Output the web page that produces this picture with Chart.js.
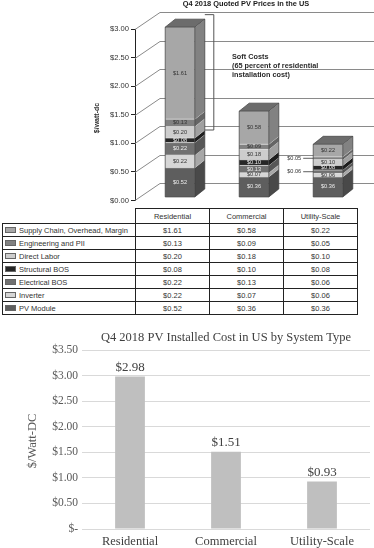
<!DOCTYPE html>
<html lang="en">
<head>
<meta charset="UTF-8">
<title>Q4 2018 PV Prices in the US</title>
<script src="https://cdn.jsdelivr.net/npm/chart.js"></script>
<style>
  body { margin: 0; background: #fff; }
  #page { position: relative; width: 374px; height: 548px; overflow: hidden; background: #fff; }
  canvas { position: absolute; left: 0; }
  #topChart { top: 0; }
  #bottomChart { top: 325px; }
  #costTable {
    position: absolute; left: 2px; top: 208px; width: 355px;
    border-collapse: collapse; table-layout: fixed;
    font: 7.5px "Liberation Sans", Arial, sans-serif; color: #333;
  }
  #costTable td, #costTable th {
    border: 1px solid #222; height: 12px; padding: 0;
    text-align: center; font-weight: normal; white-space: nowrap; overflow: hidden;
  }
  #costTable thead th { height: 14px; }
  #costTable th.blank { border-top: none; border-left: none; }
  #costTable td.name { text-align: left; }
  .sw {
    display: inline-block; width: 9px; height: 4px; border: 1px solid #666;
    margin: 0 3px 0 2px; vertical-align: 0;
  }
</style>
</head>
<body>
<div id="page">
  <canvas id="topChart" width="374" height="207"></canvas>
  <table id="costTable">
    <colgroup><col style="width:133px"><col style="width:74px"><col style="width:74px"><col style="width:74px"></colgroup>
    <thead id="tHead"></thead>
    <tbody id="tBody"></tbody>
  </table>
  <canvas id="bottomChart" width="374" height="223"></canvas>
</div>
<script>
// ---- data ----
const categories = ['Residential', 'Commercial', 'Utility-Scale'];
const seriesNames = ['PV Module', 'Inverter', 'Electrical BOS', 'Structural BOS',
  'Direct Labor', 'Engineering and PII', 'Supply Chain, Overhead, Margin'];
const pvModule = [0.52, 0.36, 0.36];
const inverter = [0.22, 0.07, 0.06];
const electricalBos = [0.22, 0.13, 0.06];
const structuralBos = [0.08, 0.10, 0.08];
const directLabor = [0.20, 0.18, 0.10];
const engineering = [0.13, 0.09, 0.05];
const supplyChain = [1.61, 0.58, 0.22];
const installedCost = [2.98, 1.51, 0.93];

const seriesValues = [pvModule, inverter, electricalBos, structuralBos, directLabor, engineering, supplyChain];
const seriesColors = ['#5e5e5e', '#d6d6d6', '#707070', '#262626', '#cdcdcd', '#818181', '#a7a7a7'];
const softCostSeries = ['Direct Labor', 'Engineering and PII', 'Supply Chain, Overhead, Margin'];
// labels too thin to sit inside their bar, shown to the left with a leader line
const outsideLabels = { 'Utility-Scale': ['Engineering and PII', 'Electrical BOS'] };

const money = v => '$' + v.toFixed(2);
const SANS = '"Liberation Sans", Arial, sans-serif';
const SERIF = '"Liberation Serif", "Times New Roman", serif';

// ---- table under the 3d chart ----
document.getElementById('tHead').innerHTML =
  '<tr><th class="blank"></th>' + categories.map(c => `<th>${c}</th>`).join('') + '</tr>';
const tBody = document.getElementById('tBody');
for (let s = seriesNames.length - 1; s >= 0; s--) {
  const tr = document.createElement('tr');
  tr.innerHTML = `<td class="name"><span class="sw" style="background:${seriesColors[s]}"></span>${seriesNames[s]}</td>` +
    seriesValues[s].map(v => `<td>${money(v)}</td>`).join('');
  tBody.appendChild(tr);
}

// ---- top chart: stacked bars with a drawn 3d look ----
const SHIFT_X = 8, SHIFT_Y = -3;     // bars sit a little back from the front plane
const DEPTH_X = 10, DEPTH_Y = -8;    // depth of each bar
const WALL_X = 25, WALL_Y = -17;     // depth of the back wall

function shade(hex, f) {
  const n = parseInt(hex.slice(1), 16);
  const r = Math.round(((n >> 16) & 255) * f), g = Math.round(((n >> 8) & 255) * f), b = Math.round((n & 255) * f);
  return `rgb(${r},${g},${b})`;
}
function isDark(hex) { return parseInt(hex.slice(1, 3), 16) < 0x80; }

const wallPlugin = {
  id: 'wall3d',
  beforeDatasetsDraw(chart) {
    const { ctx, chartArea, scales: { y } } = chart;
    ctx.save();
    ctx.strokeStyle = '#8a8a8a';
    ctx.lineWidth = 1;
    y.ticks.forEach(t => {
      const py = Math.round(y.getPixelForValue(t.value)) + 0.5;
      ctx.beginPath();
      ctx.moveTo(chartArea.left, py);
      ctx.lineTo(chartArea.left + WALL_X, py + WALL_Y);
      ctx.lineTo(chart.width, py + WALL_Y);
      ctx.stroke();
    });
    ctx.restore();
    ctx.save();
    ctx.translate(SHIFT_X, SHIFT_Y);
  },
  afterDatasetsDraw(chart) {
    const { ctx } = chart;
    ctx.restore();
    ctx.save();
    ctx.translate(SHIFT_X, SHIFT_Y);
    const n = chart.data.datasets.length;
    categories.forEach((cat, i) => {
      let barTop = 0, barBase = 0, barL = 0, barR = 0;
      for (let d = 0; d < n; d++) {
        const el = chart.getDatasetMeta(d).data[i];
        const { x, y, base, width } = el.getProps(['x', 'y', 'base', 'width'], true);
        const r = x + width / 2, l = x - width / 2;
        if (d === 0) { barBase = base; barL = l; barR = r; }
        barTop = y;
        ctx.fillStyle = shade(seriesColors[d], 0.78);
        ctx.beginPath();
        ctx.moveTo(r, y); ctx.lineTo(r + DEPTH_X, y + DEPTH_Y);
        ctx.lineTo(r + DEPTH_X, base + DEPTH_Y); ctx.lineTo(r, base);
        ctx.closePath(); ctx.fill();
        // light separators between segments
        ctx.strokeStyle = '#e4e4e4'; ctx.lineWidth = 0.7;
        ctx.beginPath();
        ctx.moveTo(l, y); ctx.lineTo(r, y); ctx.lineTo(r + DEPTH_X, y + DEPTH_Y);
        ctx.stroke();
        if (d === n - 1) {
          ctx.fillStyle = '#6c6c6c';
          ctx.beginPath();
          ctx.moveTo(l, y); ctx.lineTo(l + DEPTH_X, y + DEPTH_Y);
          ctx.lineTo(r + DEPTH_X, y + DEPTH_Y); ctx.lineTo(r, y);
          ctx.closePath(); ctx.fill();
        }
      }
      // outline of the whole bar
      ctx.strokeStyle = '#3c3c3c'; ctx.lineWidth = 0.7;
      ctx.beginPath();
      ctx.moveTo(barL, barBase); ctx.lineTo(barL, barTop);
      ctx.lineTo(barL + DEPTH_X, barTop + DEPTH_Y); ctx.lineTo(barR + DEPTH_X, barTop + DEPTH_Y);
      ctx.lineTo(barR + DEPTH_X, barBase + DEPTH_Y); ctx.lineTo(barR, barBase); ctx.closePath();
      ctx.moveTo(barR, barBase); ctx.lineTo(barR, barTop); ctx.lineTo(barR + DEPTH_X, barTop + DEPTH_Y);
      ctx.moveTo(barL, barTop); ctx.lineTo(barR, barTop);
      ctx.stroke();
      // value labels
      ctx.font = `5.6px ${SANS}`;
      ctx.textBaseline = 'middle';
      for (let d = 0; d < n; d++) {
        const el = chart.getDatasetMeta(d).data[i];
        const { x, y, base, width } = el.getProps(['x', 'y', 'base', 'width'], true);
        const txt = money(seriesValues[d][i]);
        const cy = (y + base) / 2;
        if ((outsideLabels[cat] || []).includes(seriesNames[d])) {
          const l = x - width / 2;
          ctx.textAlign = 'right';
          ctx.fillStyle = '#333';
          ctx.fillText(txt, l - 12, cy);
          ctx.strokeStyle = '#333'; ctx.lineWidth = 0.8;
          ctx.beginPath(); ctx.moveTo(l - 10, cy); ctx.lineTo(l, cy); ctx.stroke();
        } else {
          ctx.textAlign = 'center';
          ctx.fillStyle = isDark(seriesColors[d]) ? '#eeeeee' : '#333';
          ctx.fillText(txt, x, cy);
        }
      }
    });
    // soft cost bracket on the residential bar
    const softIdx = softCostSeries.map(s => seriesNames.indexOf(s));
    const topEl = chart.getDatasetMeta(Math.max(...softIdx)).data[0];
    const lowEl = chart.getDatasetMeta(Math.min(...softIdx)).data[0];
    const bx = topEl.x + topEl.width / 2 + DEPTH_X;
    ctx.strokeStyle = '#555'; ctx.lineWidth = 1;
    ctx.beginPath();
    ctx.moveTo(bx, topEl.y + DEPTH_Y - 4.5);
    ctx.lineTo(bx + 9, topEl.y + DEPTH_Y - 4.5);
    ctx.lineTo(bx + 9, lowEl.base + DEPTH_Y);
    ctx.lineTo(bx, lowEl.base + DEPTH_Y);
    ctx.stroke();
    ctx.restore();
  },
  afterDraw(chart) {
    const { ctx } = chart;
    ctx.save();
    ctx.fillStyle = '#1a1a1a';
    ctx.font = `bold 7.4px ${SANS}`;
    ctx.textAlign = 'center'; ctx.textBaseline = 'middle';
    ctx.fillText('Q4 2018 Quoted PV Prices in the US', 246, 3.5);
    ctx.textAlign = 'left';
    ctx.font = `bold 7.3px ${SANS}`;
    ctx.fillStyle = '#2a2a2a';
    ['Soft Costs', '(65 percent of residential', 'installation cost)'].forEach((t, k) => {
      ctx.fillText(t, 232, 56.5 + k * 9.4);
    });
    ctx.translate(97, 118);
    ctx.rotate(-Math.PI / 2);
    ctx.textAlign = 'center';
    ctx.font = `bold 7px ${SANS}`;
    ctx.fillStyle = '#333';
    ctx.fillText('$/watt-dc', 0, 0);
    ctx.restore();
  }
};

new Chart(document.getElementById('topChart'), {
  type: 'bar',
  data: {
    labels: categories,
    datasets: seriesNames.map((name, s) => ({
      label: name,
      data: seriesValues[s],
      backgroundColor: seriesColors[s],
      borderWidth: 0,
      categoryPercentage: 1,
      barPercentage: 0.4,
      clip: false
    }))
  },
  options: {
    responsive: false,
    animation: false,
    layout: { padding: { top: 29, bottom: 2, left: 0, right: 17 } },
    plugins: { legend: { display: false }, tooltip: { enabled: false } },
    scales: {
      x: { stacked: true, display: false },
      y: {
        stacked: true, min: 0, max: 3,
        afterFit: s => { s.width = 135; },
        ticks: {
          stepSize: 0.5, padding: 2, color: '#333',
          font: { family: SANS, size: 7.6 },
          callback: v => money(v)
        },
        grid: { drawOnChartArea: false, drawTicks: true, tickLength: 4, color: '#222' },
        border: { display: true, color: '#222', width: 1 }
      }
    }
  },
  plugins: [wallPlugin]
});

// ---- bottom chart: installed cost ----
const costPlugin = {
  id: 'costText',
  afterDraw(chart) {
    const { ctx } = chart;
    ctx.save();
    ctx.fillStyle = '#404040';
    ctx.textAlign = 'center'; ctx.textBaseline = 'middle';
    ctx.font = `12.5px ${SERIF}`;
    ctx.fillText('Q4 2018 PV Installed Cost in US by System Type', 226, 12.5);
    ctx.font = `13px ${SERIF}`;
    chart.getDatasetMeta(0).data.forEach((bar, i) => {
      ctx.fillText(money(installedCost[i]), bar.x, bar.y - 9);
    });
    ctx.translate(33, 116);
    ctx.rotate(-Math.PI / 2);
    ctx.font = `12.5px ${SERIF}`;
    ctx.fillStyle = '#595959';
    ctx.fillText('$/Watt-DC', 0, 0);
    ctx.restore();
  }
};

new Chart(document.getElementById('bottomChart'), {
  type: 'bar',
  data: {
    labels: categories,
    datasets: [{
      data: installedCost,
      backgroundColor: '#bfbfbf',
      categoryPercentage: 1,
      barPercentage: 0.31
    }]
  },
  options: {
    responsive: false,
    animation: false,
    layout: { padding: { top: 25, bottom: 0, left: 0, right: 4 } },
    plugins: { legend: { display: false }, tooltip: { enabled: false } },
    scales: {
      x: {
        afterFit: s => { s.height = 19; },
        grid: { display: false, drawTicks: false },
        border: { display: false },
        ticks: { padding: 5, color: '#404040', font: { family: SERIF, size: 12.5 } }
      },
      y: {
        min: 0, max: 3.5,
        afterFit: s => { s.width = 82; },
        ticks: {
          stepSize: 0.5, padding: 4, color: '#595959',
          font: { family: SERIF, size: 11.5 },
          callback: v => v === 0 ? '$-' : money(v)
        },
        grid: { color: '#d9d9d9', drawTicks: false },
        border: { display: false }
      }
    }
  },
  plugins: [costPlugin]
});
</script>
</body>
</html>
